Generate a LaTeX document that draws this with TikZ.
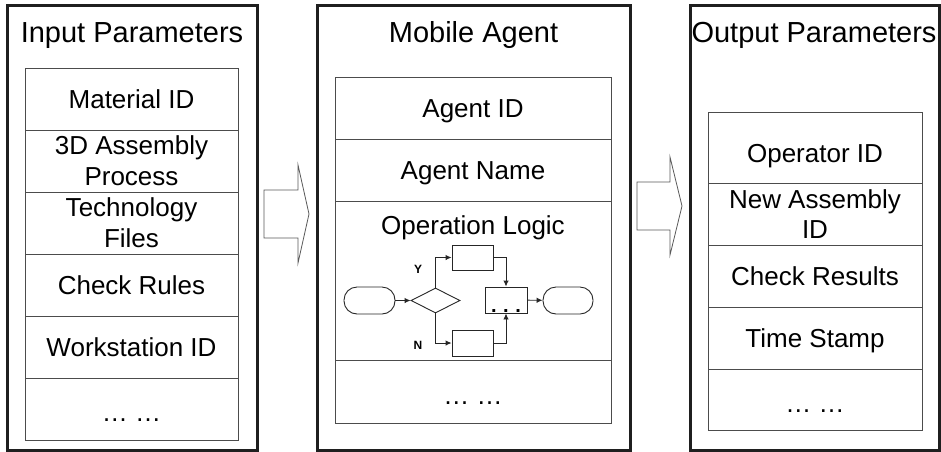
\documentclass[tikz,border=0pt]{standalone}
\usepackage{fontspec}
\setmainfont{Liberation Sans}
\usetikzlibrary{shapes.geometric,arrows.meta}
\begin{document}
\begin{tikzpicture}[x=1pt,y=-1pt,
  panel/.style={draw=black!88, line width=3pt},
  cell/.style={draw=black!70, line width=0.9pt, inner sep=0pt, align=center,
    font=\fontsize{26}{31}\selectfont, text height=18.6pt, text depth=0pt},
  twoline/.style={text height=49.6pt, text depth=0pt},
  dotscell/.style={text height=25pt, text depth=0pt},
  title/.style={anchor=base, inner sep=0pt, font=\fontsize{29}{34}\selectfont},
  blockarrow/.style={draw=black!65, line width=0.8pt, fill=white},
  fbox/.style={draw=black!85, line width=0.9pt, inner sep=0pt, minimum width=41pt, minimum height=25pt},
  term/.style={draw=black!85, line width=0.9pt, inner sep=0pt, rounded corners=13pt, minimum width=51pt, minimum height=27pt},
  flow/.style={draw=black!85, line width=0.9pt, -{Latex[length=6pt,width=5.5pt]}},
  yn/.style={inner sep=0pt, font=\fontsize{12}{12}\selectfont\bfseries}
]
\useasboundingbox (0,0) rectangle (941,451);

% ---------- Left panel ----------
\node[panel, minimum width=250pt, minimum height=445pt, inner sep=0pt] (inP) at (132,227.5) {};
\node[title] (inT) at (132,42) {Input Parameters};
\node[cell, minimum width=213pt, minimum height=62pt] (i1) at (131.5,99) {Material ID};
\node[cell, twoline, minimum width=213pt, minimum height=62pt] (i2) at (131.5,161) {3D Assembly\\Process};
\node[cell, twoline, minimum width=213pt, minimum height=62pt] (i3) at (131.5,223) {Technology\\Files};
\node[cell, minimum width=213pt, minimum height=62pt] (i4) at (131.5,285) {Check Rules};
\node[cell, minimum width=213pt, minimum height=62pt] (i5) at (131.5,347) {Workstation ID};
\node[cell, dotscell, minimum width=213pt, minimum height=62pt] (i6) at (131.5,409) {\dots\ \dots};

% ---------- Arrow 1 ----------
\draw[blockarrow] (264,190) -- (298,190) -- (298,165) -- (309,214) -- (298,263) -- (298,238) -- (264,238) -- cycle;

% ---------- Middle panel ----------
\node[panel, minimum width=313pt, minimum height=445pt, inner sep=0pt] (maP) at (473.5,227.5) {};
\node[title] (maT) at (473.5,42) {Mobile Agent};
\node[cell, minimum width=276pt, minimum height=62pt] (m1) at (473,108) {Agent ID};
\node[cell, minimum width=276pt, minimum height=62pt] (m2) at (473,170) {Agent Name};
\node[cell, minimum width=276pt, minimum height=159pt] (m3) at (473,280.5) {};
\node[title, font=\fontsize{26}{31}\selectfont] (m3t) at (473,234) {Operation Logic};
\node[cell, dotscell, minimum width=276pt, minimum height=63pt] (m4) at (473,391.5) {\dots\ \dots};

% flowchart
\node[term] (t1) at (369.5,300.5) {};
\node[diamond, draw=black!85, line width=0.9pt, inner sep=0pt, minimum width=49pt, minimum height=25pt] (dd) at (435.5,300.5) {};
\node[fbox] (b1) at (472.5,257.5) {};
\node[fbox, minimum height=26pt] (b2) at (472.5,343) {};
\node[fbox, minimum width=42pt, minimum height=26pt] (b3) at (506,300) {};
\node[inner sep=0pt, anchor=base, font=\fontsize{20}{20}\selectfont\bfseries] (b3d) at (506,312) {.\,\,.\,\,.};
\node[term, minimum width=50pt] (t2) at (568,300.5) {};
\node[yn] (ylab) at (418,269) {Y};
\node[yn] (nlab) at (418,345) {N};
\draw[flow] (t1) -- (dd);
\draw[flow] (dd.north) |- (b1.west);
\draw[flow] (dd.south) |- (b2.west);
\draw[flow] (b1.east) -| (b3.north);
\draw[flow] (b2.east) -| (b3.south);
\draw[flow] (b3) -- (t2);

% ---------- Arrow 2 ----------
\draw[blockarrow] (637,182) -- (670,182) -- (670,157) -- (682,206) -- (670,255) -- (670,230) -- (637,230) -- cycle;

% ---------- Right panel ----------
\node[panel, minimum width=249pt, minimum height=445pt, inner sep=0pt] (outP) at (814.5,227.5) {};
\node[title] (outT) at (814,42) {Output Parameters};
\node[cell, minimum width=214pt, minimum height=71pt, text height=29.6pt] (o1) at (815,147.5) {Operator ID};
\node[cell, minimum width=214pt, minimum height=62pt, text height=48.6pt, text depth=0pt, font=\fontsize{26}{30}\selectfont] (o2) at (815,214) {New Assembly\\ID};
\node[cell, minimum width=214pt, minimum height=62pt] (o3) at (815,276) {Check Results};
\node[cell, minimum width=214pt, minimum height=62pt] (o4) at (815,338) {Time Stamp};
\node[cell, dotscell, minimum width=214pt, minimum height=61pt] (o5) at (815,399.5) {\dots\ \dots};
\end{tikzpicture}
\end{document}
